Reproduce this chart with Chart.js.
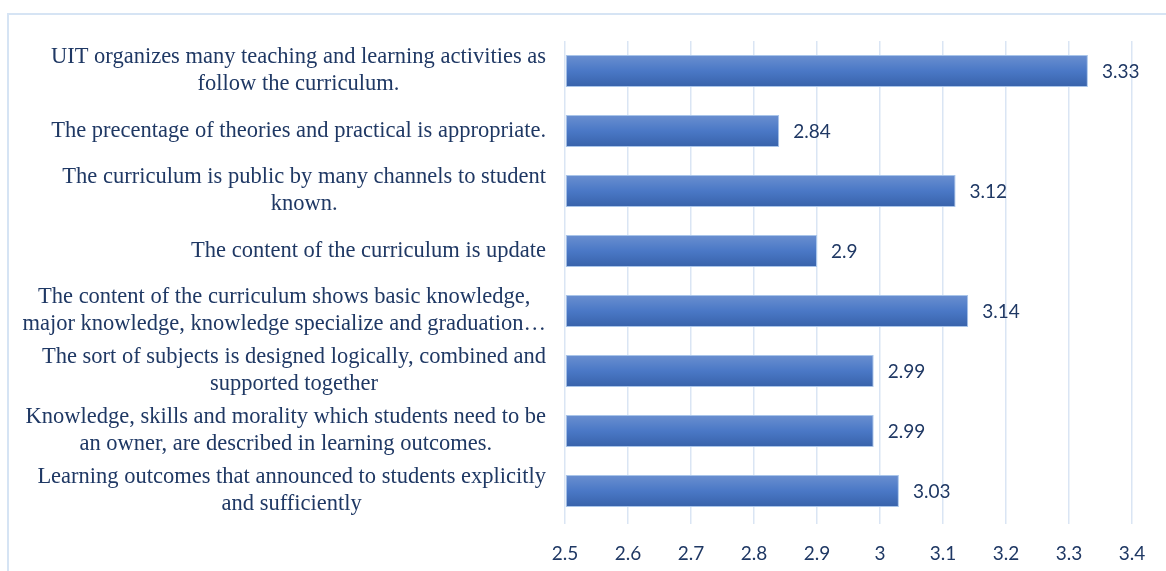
<!DOCTYPE html>
<html>
<head>
<meta charset="utf-8">
<script src="https://cdn.jsdelivr.net/npm/chart.js@4"></script>
<style>
  html, body { margin: 0; padding: 0; background: #fff; overflow: hidden; }
  #wrap { position: relative; width: 1166px; height: 571px; }
  #frame { position: absolute; left: 7px; top: 13px; width: 1200px; height: 600px;
           border-top: 2px solid #d6e4f4; border-left: 2px solid #d6e4f4; }
  canvas { position: absolute; left: 0; top: 0; }
</style>
</head>
<body>
<div id="wrap">
  <div id="frame"></div>
  <canvas id="chart" width="1166" height="571"></canvas>
</div>
<script>
/* ── Data ── */
const labels = [
  ['UIT organizes many teaching and learning activities as', 'follow the curriculum.'],
  ['The precentage of theories and practical is appropriate.'],
  ['The curriculum is public by many channels to student', 'known.'],
  ['The content of the curriculum is update'],
  ['The content of the curriculum shows basic knowledge,', 'major knowledge, knowledge specialize and graduation…'],
  ['The sort of subjects is designed logically, combined and', 'supported together'],
  ['Knowledge, skills and morality which students need to be', 'an owner, are described in learning outcomes.'],
  ['Learning outcomes that announced to students explicitly', 'and sufficiently'],
];
const scores = [3.33, 2.84, 3.12, 2.9, 3.14, 2.99, 2.99, 3.03];
const xMin = 2.5, xMax = 3.4, xStep = 0.1;

const NAVY = '#1f3864';
const CAT_PCT = 32 / 60;

/* ── Bar gradient (lighter on top, darker below) ── */
function barFill(ctx) {
  const chart = ctx.chart;
  const y = chart.scales && chart.scales.y;
  if (!y || ctx.dataIndex === undefined || !chart.chartArea) return '#4a78c4';
  const cy = y.getPixelForValue(ctx.dataIndex);
  const half = (chart.chartArea.height / labels.length) * CAT_PCT / 2;
  const g = chart.ctx.createLinearGradient(0, cy - half, 0, cy + half);
  g.addColorStop(0, '#6a8fd0');
  g.addColorStop(0.5, '#4a78c6');
  g.addColorStop(1, '#3862aa');
  return g;
}

/* ── Category labels (Excel style: lines centred, block right-aligned) ── */
const catLabels = {
  id: 'catLabels',
  afterDraw(chart) {
    const c = chart.ctx, y = chart.scales.y;
    const right = y.right - 19;
    const lh = 27;
    c.save();
    c.font = '22.5px "Liberation Serif", "Times New Roman", serif';
    c.fillStyle = NAVY;
    c.textAlign = 'center';
    c.textBaseline = 'middle';
    labels.forEach((lines, i) => {
      const cy = y.getPixelForValue(i);
      const w = Math.max(...lines.map(l => c.measureText(l).width));
      const cx = right - w / 2;
      lines.forEach((l, j) => {
        c.fillText(l, cx, cy + (j - (lines.length - 1) / 2) * lh);
      });
    });
    c.restore();
  }
};

/* ── Value labels ── */
const valueLabels = {
  id: 'valueLabels',
  afterDatasetsDraw(chart) {
    const c = chart.ctx;
    const meta = chart.getDatasetMeta(0);
    c.save();
    c.font = '19px Lato, "Open Sans", sans-serif';
    c.fillStyle = NAVY;
    c.textAlign = 'left';
    c.textBaseline = 'middle';
    meta.data.forEach((bar, i) => {
      c.fillText(String(scores[i]), bar.x + 14, bar.y + 1);
    });
    c.restore();
  }
};

new Chart(document.getElementById('chart'), {
  type: 'bar',
  data: {
    labels: labels,
    datasets: [{
      data: scores,
      backgroundColor: barFill,
      borderColor: '#a9c5ea',
      borderWidth: 1,
      borderSkipped: false,
      barPercentage: 1,
      categoryPercentage: CAT_PCT,
      base: xMin,
    }]
  },
  options: {
    indexAxis: 'y',
    responsive: false,
    animation: false,
    layout: { padding: { left: 565, right: 34, top: 41, bottom: 0 } },
    plugins: { legend: { display: false }, tooltip: { enabled: false } },
    scales: {
      x: {
        min: xMin, max: xMax,
        border: { display: false },
        grid: { color: '#dae5f4', lineWidth: 1.5, drawTicks: true, tickLength: 3, tickColor: '#dae5f4' },
        ticks: {
          stepSize: xStep, padding: 18, color: NAVY,
          font: { family: 'Lato, "Open Sans", sans-serif', size: 19 },
          callback: v => String(Math.round(v * 10) / 10)
        },
        afterFit: s => { s.height = 50; }
      },
      y: {
        border: { display: false },
        grid: { display: false },
        ticks: { display: false },
        afterFit: s => { s.width = 0; }
      }
    }
  },
  plugins: [catLabels, valueLabels]
});
</script>
</body>
</html>
